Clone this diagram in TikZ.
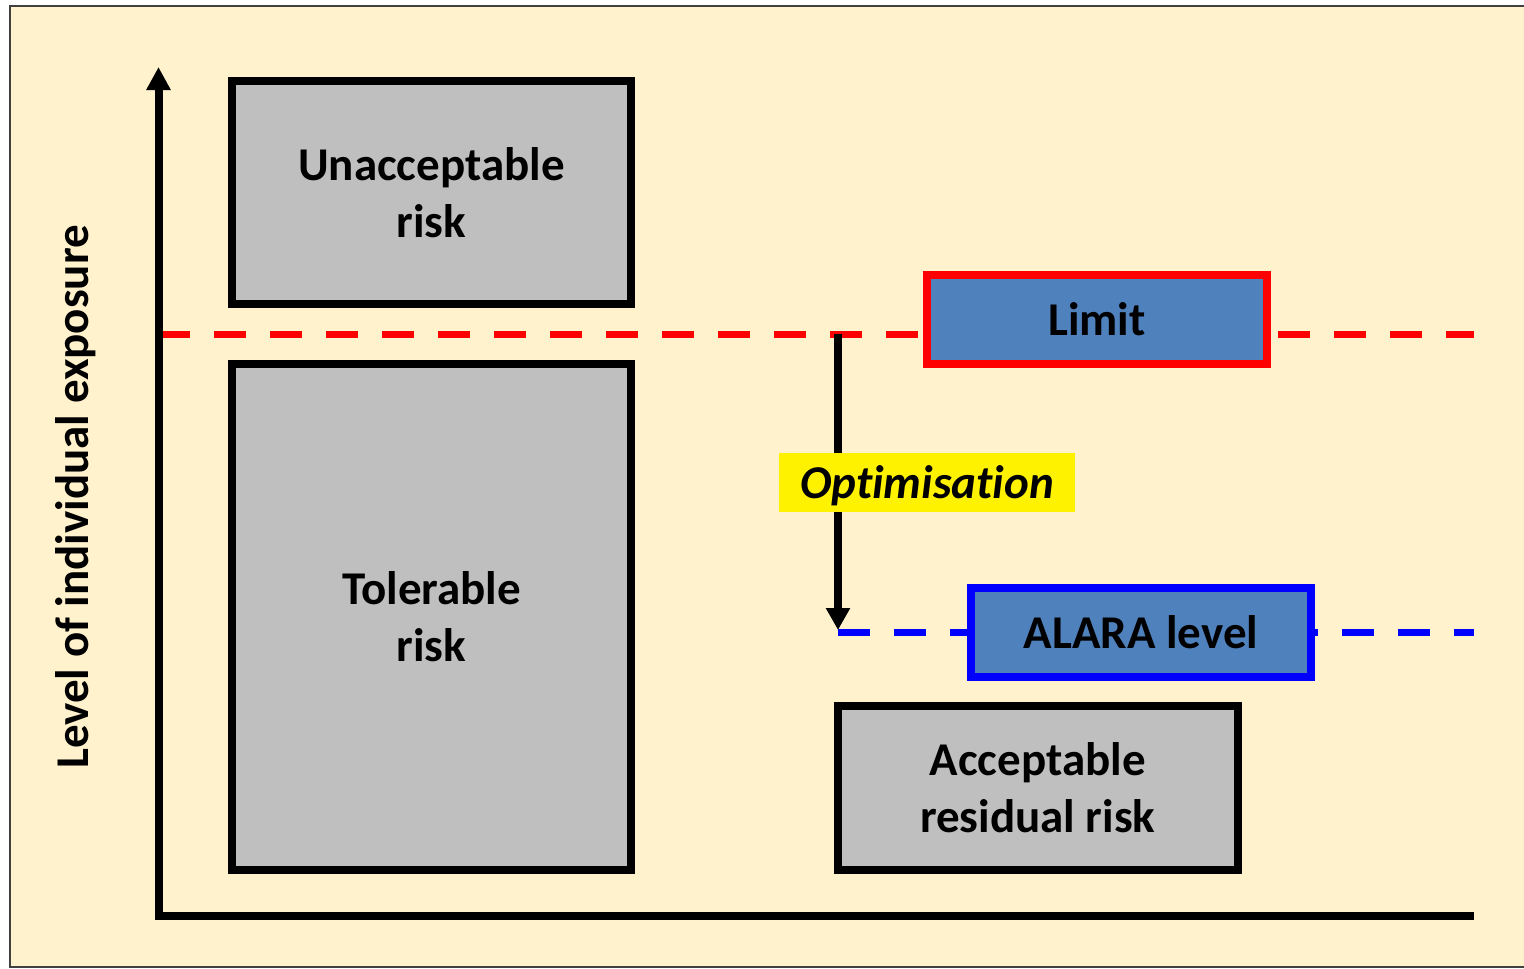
\documentclass[tikz,border=0pt]{standalone}
\usepackage{fontspec}
\setmainfont{Carlito}[Ligatures=NoCommon]
\usetikzlibrary{arrows.meta}
\definecolor{bgc}{HTML}{FFF2CC}
\definecolor{boxgray}{HTML}{BFBFBF}
\definecolor{lvlblue}{HTML}{4F81BD}
\definecolor{frameline}{HTML}{404040}
\begin{document}
\begin{tikzpicture}[x=1pt,y=-1pt,
  bigfont/.style={font=\fontsize{47}{57}\selectfont\bfseries},
  riskbox/.style={draw=black, line width=8pt, fill=boxgray, align=center, inner sep=0pt, bigfont},
  levelbox/.style={line width=8pt, fill=lvlblue, inner sep=0pt, minimum width=340pt, minimum height=89pt, bigfont},
  leveldash/.style={line width=7pt, dash pattern=on 32pt off 24pt},
  axisline/.style={line width=8pt}
]
\useasboundingbox (0,0) rectangle (1524,969);
% background
\fill[bgc] (10,6) rectangle (1540,967);
\draw[frameline, line width=1.5pt] (1540,6) -- (10,6) -- (10,967) -- (1540,967);

% coordinates
\coordinate (redL) at (158,334);
\coordinate (redR) at (1474,334);
\coordinate (blueL) at (838,632);
\coordinate (blueR) at (1474,632);
\coordinate (optA) at (838,334);
\coordinate (optB) at (838,630);
\coordinate (O) at (158.5,915.5);
\coordinate (ytop) at (158.5,67);
\coordinate (xend) at (1474,915.5);

% dashed levels
\draw[leveldash, red] (redL) -- (redR);
\draw[leveldash, blue] (blueL) -- (blueR);

% risk boxes
\node[riskbox, minimum width=399pt, minimum height=223pt] (unacc) at (431.5,192.5) {Unacceptable\\risk};
\node[riskbox, minimum width=399pt, minimum height=506pt] (toler) at (431.5,617) {Tolerable\\risk};
\node[riskbox, minimum width=399.5pt, minimum height=164pt] (accept) at (1037.75,788) {Acceptable\\residual risk};

% level boxes
\node[levelbox, draw=red] (limit) at (1097,319.5) {Limit};
\node[levelbox, draw=blue] (alara) at (1141,632.5) {ALARA level};

% optimisation arrow and label
\draw[line width=8pt, -{Triangle[length=22pt,width=23pt]}] (optA) -- (optB);
\node[fill=yellow, inner sep=0pt, minimum width=296pt, minimum height=59pt, font=\fontsize{47}{57}\selectfont\bfseries\itshape] (optim) at (927,482.5) {\raisebox{-3pt}[\height][\depth]{Optimisation}};

% axes
\draw[axisline, {Triangle[length=23pt,width=23pt]}-] (ytop) -- (O) -- (xend);

% axis label
\node[rotate=90, anchor=base, bigfont, inner sep=0pt] (ylabel) at (88,497) {Level of individual exposure};
\end{tikzpicture}
\end{document}
